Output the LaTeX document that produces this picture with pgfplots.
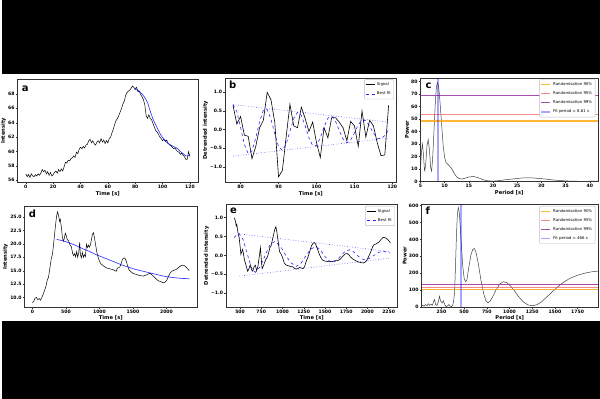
\documentclass[border=0pt]{standalone}
\usepackage{pgfplots}
\pgfplotsset{compat=1.18}
\usepackage{fontspec}
\setmainfont{DejaVu Sans}
\definecolor{cOrange}{RGB}{255,170,20}
\definecolor{cRed}{RGB}{240,90,90}
\definecolor{cPurple}{RGB}{155,45,165}
\pgfplotsset{
  panel/.style={scale only axis, anchor=south west,
    axis line style={black!80, line width=0.4pt},
    tick align=outside, tick pos=left, major tick length=1.8pt,
    tick style={black!80, line width=0.4pt},
    ticklabel style={font=\fontsize{4.6}{5}\selectfont\bfseries, inner sep=1pt},
    label style={font=\fontsize{5.2}{6}\selectfont\bfseries, inner sep=1pt},
    legend style={at={(0.985,0.985)}, anchor=north east,
      font=\fontsize{3.9}{4.6}\selectfont, draw=black!25, rounded corners=1pt,
      inner sep=1pt, row sep=0.6pt, legend cell align=left},
    legend image code/.code={\draw[##1] (0pt,0pt) -- (9pt,0pt);},
  },
}
\tikzset{plab/.style={font=\fontsize{10}{10}\selectfont\bfseries, anchor=base west, inner sep=0pt}}
\begin{document}
\begin{tikzpicture}
\fill[black] (0pt,0pt) rectangle (600pt,400pt);
\fill[white] (0pt,78pt) rectangle (600pt,326pt);

% ---------------- panel a
\begin{axis}[panel, at={(16pt,217pt)}, width=181pt, height=104pt,
  xmin=-6, xmax=126, ymin=55.7, ymax=70.1,
  xtick={0,20,40,60,80,100,120}, xticklabels={0,20,40,60,80,100,120},
  ytick={56,58,60,62,64,66,68}, yticklabels={56,58,60,62,64,66,68},
  xlabel={Time [s]}, ylabel={Intensity}]
\addplot[black, line width=0.5pt] coordinates {
(0,56.9)(1,56.5)(2,56.8)(3,56.4)(4,56.9)(5,56.6)(6,56.5)(7,56.8)(8,56.6)(9,56.9)
(10,56.7)(11,57.0)(12,57.5)(13,57.2)(14,57.4)(15,56.9)(16,57.2)(17,56.7)(18,57.1)(19,56.6)
(20,56.8)(21,57.1)(22,57.3)(23,57.0)(24,57.5)(25,57.2)(26,57.6)(27,57.3)(28,57.9)(29,58.5)
(30,58.4)(31,58.8)(32,58.7)(33,59.0)(34,59.1)(35,59.4)(36,59.2)(37,59.9)(38,59.7)(39,60.3)
(40,60.6)(41,60.4)(42,60.7)(43,60.5)(44,60.9)(45,61.0)(46,61.5)(47,61.7)(48,61.2)(49,61.5)
(50,61.1)(51,60.9)(52,61.3)(53,61.5)(54,61.2)(55,61.8)(56,61.3)(57,61.6)(58,61.1)(59,61.5)
(60,61.2)(61,61.8)(62,62.0)(63,62.6)(64,63.1)(65,63.8)(66,64.3)(67,64.6)(68,65.0)(69,65.5)
(70,66.0)(71,66.6)(72,67.0)(73,67.8)(74,68.2)(75,68.4)(76,68.5)(77,68.8)(78,69.1)(79,68.9)
(80,68.7)(81,68.9)(82,68.3)(83,68.4)(84,67.9)(85,67.6)(86,67.2)(87,66.5)(88,65.0)(89,64.6)
(90,65.1)(91,64.6)(92,64.4)(93,63.9)(94,63.4)(95,62.9)(96,62.7)(97,62.4)(98,62.0)(99,61.8)
(100,61.5)(101,61.7)(102,61.4)(103,61.6)(104,61.1)(105,61.0)(106,60.8)(107,60.6)(108,60.4)(109,60.5)
(110,60.2)(111,60.0)(112,59.9)(113,59.6)(114,59.8)(115,59.5)(116,59.3)(117,58.9)(118,58.9)(119,60.0)(120,59.3)};
\addplot[blue, line width=0.6pt, opacity=0.85] coordinates {
(79,68.7)(82,68.5)(85,68.0)(87,67.5)(89,66.8)(91,65.6)(93,64.5)(95,63.7)(97,62.9)(99,62.2)
(101,61.7)(103,61.3)(105,61.0)(107,60.8)(109,60.6)(111,60.4)(113,60.0)(115,59.7)(117,59.4)(119,59.4)(120,59.6)};
\node[plab] at (rel axis cs:0,1) [xshift=4pt, yshift=-12.5pt] {a};
\node[anchor=south west, inner sep=0pt, font=\fontsize{3.8}{4}\selectfont] at (rel axis cs:0,1) [yshift=0.8pt] {×10\textsuperscript{4}};
\end{axis}

% ---------------- panel b
\begin{axis}[panel, at={(224pt,217pt)}, width=172pt, height=105pt,
  xmin=75.9, xmax=121.1, ymin=-1.42, ymax=1.39,
  xtick={80,90,100,110,120}, xticklabels={80,90,100,110,120},
  ytick={-1,-0.5,0,0.5,1}, yticklabels={−1.0,−0.5,0.0,0.5,1.0},
  xlabel={Time [s]}, ylabel={Detrended intensity}]
\addplot[black, line width=0.6pt] coordinates {
(78,0.65)(79,0.15)(80,0.35)(81,-0.15)(82,-0.18)(83,-0.78)(84,-0.45)(85,0.05)(86,0.25)(87,1.0)
(88,0.8)(89,0.2)(90,-1.27)(91,-1.1)(92,-0.2)(93,0.68)(94,0.1)(95,0.05)(96,0.6)(97,0.3)
(98,-0.05)(99,0.2)(100,-0.35)(101,-0.75)(102,0.05)(103,-0.22)(104,0.32)(105,0.32)(106,0.2)(107,0.05)
(108,-0.3)(109,0.22)(110,0.1)(111,-0.45)(112,0.5)(113,-0.2)(114,0.25)(115,0.1)(116,-0.35)(117,-0.7)
(118,-0.68)(119,0.65)};
\addlegendentry{Signal}
\addplot[blue, dashed, line width=0.6pt, opacity=0.85] coordinates {
(78,0.67)(79,0.485)(80,0.054)(81,-0.40)(82,-0.647)(83,-0.573)(84,-0.224)(85,0.214)(86,0.517)(87,0.541)
(88,0.284)(89,-0.115)(90,-0.451)(91,-0.557)(92,-0.391)(93,-0.047)(94,0.295)(95,0.465)(96,0.384)(97,0.107)
(98,-0.22)(99,-0.431)(100,-0.428)(101,-0.222)(102,0.073)(103,0.305)(104,0.363)(105,0.227)(106,-0.023)(107,-0.256)
(108,-0.357)(109,-0.285)(110,-0.088)(111,0.129)(112,0.257)(113,0.238)(114,0.095)(115,-0.093)(116,-0.229)(117,-0.25)
(118,-0.157)(119,-0.006)};
\addlegendentry{Best fit}
\addplot[blue, dotted, line width=0.6pt, opacity=0.7, forget plot] coordinates {(78,0.67)(119,0.20)};
\addplot[blue, dotted, line width=0.6pt, opacity=0.7, forget plot] coordinates {(78,-0.71)(119,-0.23)};
\node[plab] at (rel axis cs:0,1) [xshift=4pt, yshift=-11pt] {b};
\end{axis}

% ---------------- panel c
\begin{axis}[panel, at={(420pt,218pt)}, width=178pt, height=104pt,
  xmin=5, xmax=41.7, ymin=0, ymax=83,
  xtick={5,10,15,20,25,30,35,40}, xticklabels={5,10,15,20,25,30,35,40},
  ytick={0,10,20,30,40,50,60,70,80}, yticklabels={0,10,20,30,40,50,60,70,80},
  xlabel={Period [s]}, ylabel={Power}]
\addplot[black!75, line width=0.5pt, forget plot] coordinates {
(5.0,10)(5.2,24)(5.4,30)(5.6,22)(5.8,10)(5.9,8.4)(6.1,15)(6.35,29)(6.6,33.6)(6.85,25)(7.1,11)(7.3,8.4)
(7.5,18)(7.7,33)(7.9,50)(8.1,66)(8.3,76)(8.5,79)(8.7,77)(8.9,70)(9.1,60)(9.4,44)(9.7,28)(10.0,19)
(10.3,15)(10.7,13.5)(11.0,12.4)(11.5,10)(12.0,6.3)(12.5,3.6)(13.0,2.3)(13.5,2.0)(14.0,2.4)(15.0,3.6)
(16.0,4.0)(17.0,2.9)(18.0,1.3)(19.0,0.5)(20.0,0.3)(21.0,0.6)(22.0,1.1)(24.0,2.0)(26.0,2.8)(27.0,3.0)
(28.0,2.9)(30.0,2.3)(32.0,1.4)(34.0,0.7)(36.0,0.3)(38.0,0.15)(40.0,0.2)(41.7,0.3)};
\addplot[cOrange, opacity=0.85, line width=1.1pt] coordinates {(5,48.4)(41.7,48.4)};
\addlegendentry{Randomisation 90\%}
\addplot[cRed, opacity=0.7, line width=1.1pt] coordinates {(5,53.5)(41.7,53.5)};
\addlegendentry{Randomisation 95\%}
\addplot[cPurple, opacity=0.85, line width=1.1pt] coordinates {(5,68.6)(41.7,68.6)};
\addlegendentry{Randomisation 99\%}
\addplot[blue, opacity=0.35, line width=1.6pt] coordinates {(8.61,0)(8.61,83)};
\addlegendentry{Fit period = 8.61 s}
\node[plab] at (rel axis cs:0,1) [xshift=5pt, yshift=-11pt] {c};
\end{axis}

% ---------------- panel d
\begin{axis}[panel, at={(23pt,92pt)}, width=173pt, height=101pt,
  xmin=-117, xmax=2457, ymin=8.2, ymax=27.0,
  xtick={0,500,1000,1500,2000}, xticklabels={0,500,1000,1500,2000},
  ytick={10,12.5,15,17.5,20,22.5,25}, yticklabels={10.0,12.5,15.0,17.5,20.0,22.5,25.0},
  xlabel={Time [s]}, ylabel={Intensity}]
\addplot[black, line width=0.5pt] coordinates {
(0,9.0)(20,9.3)(40,9.9)(60,10.0)(80,9.6)(100,9.8)(120,9.5)(140,10.0)(160,10.6)(180,11.3)
(200,12.0)(220,13.2)(240,13.8)(260,15.5)(280,17.2)(300,18.2)(320,20.5)(340,23.0)(360,25.2)(375,26.0)
(390,25.3)(405,24.2)(415,24.6)(430,23.3)(445,21.5)(460,20.5)(475,21.0)(490,22.0)(505,21.5)(520,20.8)
(540,20.6)(560,19.8)(580,19.5)(600,18.2)(615,17.8)(630,18.2)(645,17.6)(660,18.6)(675,17.5)(690,18.3)
(705,20.3)(715,18.0)(730,17.4)(745,18.4)(760,17.5)(775,18.0)(790,17.6)(805,19.9)(820,19.3)(835,19.8)
(850,19.4)(865,19.8)(880,20.8)(895,21.8)(910,22.1)(925,21.2)(940,20.0)(960,18.5)(980,17.5)(1000,16.8)
(1020,16.3)(1050,16.0)(1080,15.7)(1110,15.5)(1140,15.4)(1170,15.3)(1200,15.2)(1230,15.0)(1250,14.9)(1265,15.4)
(1280,15.6)(1300,15.6)(1320,16.2)(1340,17.0)(1360,17.4)(1380,17.3)(1400,16.8)(1420,15.9)(1440,15.2)(1470,14.8)
(1500,14.5)(1550,14.3)(1600,14.1)(1650,14.0)(1700,14.2)(1730,14.4)(1760,14.5)(1790,14.1)(1820,13.8)(1850,13.4)
(1880,13.1)(1910,13.0)(1940,12.8)(1970,12.8)(2000,13.1)(2020,13.7)(2050,14.5)(2080,14.9)(2110,15.1)(2140,15.2)
(2170,15.5)(2200,15.8)(2230,16.0)(2260,16.0)(2290,15.7)(2320,15.3)(2340,15.0)};
\addplot[blue, line width=0.6pt, opacity=0.85] coordinates {
(360,20.85)(450,20.6)(550,20.2)(650,19.7)(750,19.1)(850,18.6)(950,18.0)(1050,17.5)(1150,17.0)(1250,16.5)
(1350,16.0)(1450,15.6)(1550,15.2)(1650,14.9)(1750,14.6)(1850,14.3)(1950,14.0)(2050,13.8)(2150,13.65)(2250,13.55)(2340,13.5)};
\node[plab] at (rel axis cs:0,1) [xshift=4pt, yshift=-11pt] {d};
\node[anchor=south west, inner sep=0pt, font=\fontsize{3.8}{4}\selectfont] at (rel axis cs:0,1) [yshift=0.8pt] {×10\textsuperscript{3}};
\end{axis}

% ---------------- panel e
\begin{axis}[panel, at={(225pt,92pt)}, width=172pt, height=103pt,
  xmin=335, xmax=2355, ymin=-1.37, ymax=1.35,
  xtick={500,750,1000,1250,1500,1750,2000,2250}, xticklabels={500,750,1000,1250,1500,1750,2000,2250},
  ytick={-1,-0.5,0,0.5,1}, yticklabels={−1.0,−0.5,0.0,0.5,1.0},
  xlabel={Time [s]}, ylabel={Detrended intensity}]
\addplot[black, line width=0.6pt] coordinates {
(430,1.00)(445,0.92)(455,0.78)(462,0.82)(470,0.68)(480,0.55)(490,0.47)(500,0.25)(510,0.03)(520,0.10)
(530,0.16)(540,0.05)(550,-0.10)(560,-0.18)(575,-0.30)(590,-0.42)(605,-0.35)(620,-0.25)(635,-0.38)(650,-0.42)
(665,-0.30)(680,-0.26)(695,-0.40)(710,-0.30)(725,-0.05)(740,0.20)(750,-0.10)(760,-0.35)(775,-0.28)(790,-0.18)
(805,-0.10)(820,-0.05)(835,0.05)(850,0.20)(865,0.25)(880,0.40)(895,0.55)(910,0.70)(922,0.76)(935,0.60)
(950,0.35)(965,0.10)(980,0.05)(1000,-0.05)(1020,-0.20)(1040,-0.25)(1060,-0.27)(1080,-0.28)(1100,-0.30)(1120,-0.30)
(1140,-0.34)(1160,-0.36)(1180,-0.35)(1200,-0.32)(1220,-0.33)(1240,-0.35)(1260,-0.30)(1280,-0.15)(1300,-0.05)(1320,0.10)
(1340,0.25)(1360,0.32)(1375,0.34)(1390,0.30)(1410,0.18)(1430,0.05)(1450,-0.05)(1470,-0.12)(1500,-0.15)(1530,-0.16)
(1560,-0.17)(1590,-0.16)(1620,-0.14)(1650,-0.14)(1680,-0.10)(1700,-0.05)(1720,0.00)(1740,0.04)(1760,0.05)(1780,0.02)
(1800,-0.04)(1830,-0.10)(1860,-0.14)(1890,-0.17)(1920,-0.19)(1950,-0.20)(1980,-0.17)(2000,-0.10)(2020,0.00)(2040,0.10)
(2060,0.22)(2080,0.29)(2100,0.30)(2120,0.33)(2140,0.36)(2160,0.42)(2180,0.47)(2200,0.48)(2220,0.45)(2240,0.42)
(2255,0.38)(2270,0.33)};
\addlegendentry{Signal}
\addplot[blue, dashed, line width=0.6pt, opacity=0.85] coordinates {
(430,0.47)(460,0.55)(488,0.58)(535,0.42)(584,0.05)(632,-0.32)(680,-0.45)(738,-0.30)(795,0.0)(852,0.28)
(910,0.37)(974,0.25)(1038,0.0)(1101,-0.20)(1165,-0.29)(1221,-0.20)(1278,0.0)(1334,0.17)(1390,0.23)(1440,0.16)
(1490,0.0)(1540,-0.13)(1590,-0.19)(1640,-0.13)(1690,0.0)(1740,0.11)(1790,0.15)(1835,0.10)(1880,0.0)(1925,-0.08)
(1970,-0.12)(2023,-0.08)(2077,0.0)(2130,0.08)(2184,0.11)(2230,0.09)(2270,0.06)};
\addlegendentry{Best fit}
\addplot[blue, dotted, line width=0.6pt, opacity=0.7, forget plot] coordinates {(488,0.57)(2270,0.10)};
\addplot[blue, dotted, line width=0.6pt, opacity=0.7, forget plot] coordinates {(488,-0.55)(2270,-0.07)};
\node[plab] at (rel axis cs:0,1) [xshift=4pt, yshift=-9.5pt] {e};
\end{axis}

% ---------------- panel f
\begin{axis}[panel, at={(421pt,92pt)}, width=177pt, height=103pt,
  xmin=30, xmax=1975, ymin=0, ymax=606,
  xtick={250,500,750,1000,1250,1500,1750}, xticklabels={250,500,750,1000,1250,1500,1750},
  ytick={0,100,200,300,400,500,600}, yticklabels={0,100,200,300,400,500,600},
  xlabel={Period [s]}, ylabel={Power}]
\addplot[black!75, line width=0.5pt, forget plot] coordinates {
(30,5)(45,12)(60,6)(75,15)(90,8)(105,20)(120,10)(135,18)(150,12)(165,35)(175,45)(185,15)(200,10)
(215,30)(228,64)(242,35)(258,25)(272,38)(288,12)(302,3)(318,8)(332,15)(346,6)(360,3)(375,12)(385,40)
(395,90)(405,250)(415,420)(425,545)(435,588)(445,565)(458,470)(470,360)(485,240)(500,170)(515,150)
(530,160)(550,230)(575,310)(595,340)(612,346)(630,325)(655,260)(685,160)(715,80)(740,38)(762,25)
(785,35)(815,62)(850,100)(890,135)(930,150)(970,145)(1010,125)(1050,100)(1100,62)(1150,32)(1200,14)
(1250,8)(1300,14)(1350,30)(1400,55)(1450,80)(1500,105)(1550,128)(1600,148)(1650,165)(1700,178)
(1750,188)(1800,196)(1850,203)(1900,208)(1950,211)(1975,213)};
\addplot[cOrange, opacity=0.85, line width=1.1pt] coordinates {(30,102)(1975,102)};
\addlegendentry{Randomisation 90\%}
\addplot[cRed, opacity=0.7, line width=1.1pt] coordinates {(30,114)(1975,114)};
\addlegendentry{Randomisation 95\%}
\addplot[cPurple, opacity=0.85, line width=1.1pt] coordinates {(30,131)(1975,131)};
\addlegendentry{Randomisation 99\%}
\addplot[blue, opacity=0.35, line width=1.6pt] coordinates {(466,0)(466,606)};
\addlegendentry{Fit period = 466 s}
\node[plab] at (rel axis cs:0,1) [xshift=4pt, yshift=-10.5pt] {f};
\end{axis}
\end{tikzpicture}
\end{document}
